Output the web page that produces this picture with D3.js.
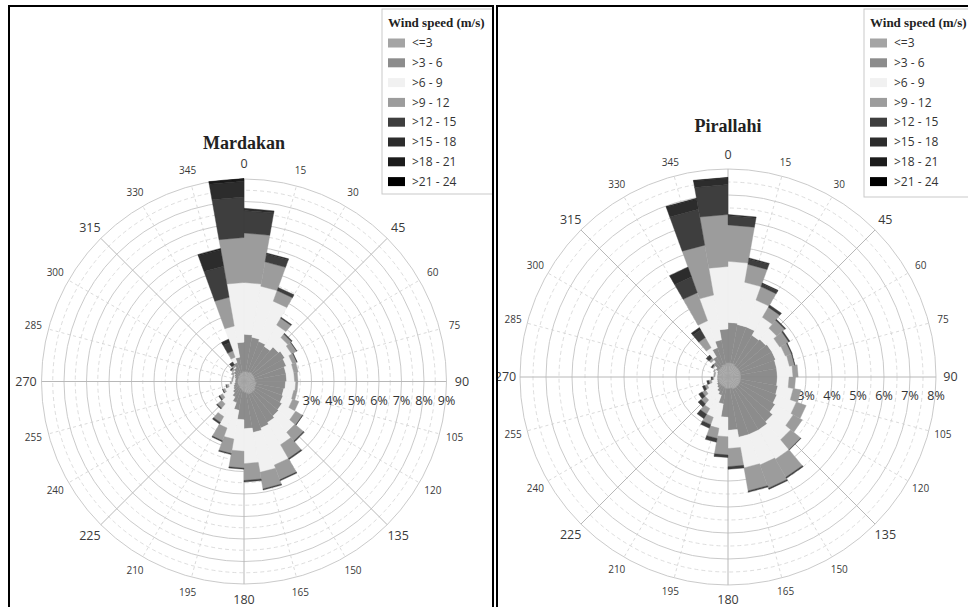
<!DOCTYPE html>
<html><head><meta charset="utf-8">
<script src="https://cdn.jsdelivr.net/npm/d3@7"></script>
<style>body{margin:0;background:#fff;}svg{display:block;}</style>
</head><body>
<svg id="c" width="968" height="607"></svg>
<script>
// ---------- DATA ----------
const directions = d3.range(0, 360, 10);          // bin start angle (deg), 10° sectors
const angleTicks = d3.range(0, 360, 15);          // compass labels
const speedClasses = ["<=3", ">3 - 6", ">6 - 9", ">9 - 12", ">12 - 15", ">15 - 18", ">18 - 21", ">21 - 24"];
const classColors = ["#a4a4a4", "#8c8c8c", "#f1f1f1", "#9c9c9c", "#3e3e3e", "#2c2c2c", "#1c1c1c", "#000000"];
const legendTitle = "Wind speed (m/s)";

// Mardakan frequencies (%) per direction bin, one array per speed class
const mardakanC1 = [0.45,0.45,0.45,0.5,0.5,0.5,0.5,0.5,0.5,0.55,0.55,0.55,0.6,0.6,0.6,0.6,0.55,0.5,0.45,0.4,0.35,0.35,0.3,0.3,0.3,0.3,0.3,0.3,0.3,0.3,0.3,0.35,0.35,0.4,0.4,0.45];
const mardakanC2 = [1.65,1.55,1.45,1.3,1.5,1.6,1.5,1.4,1.4,1.3,1.25,1.3,1.35,1.4,1.5,1.6,1.75,1.6,1.25,0.9,0.65,0.45,0.35,0.25,0.2,0.15,0.1,0.1,0.1,0.15,0.2,0.25,0.35,0.5,0.7,1.3];
const mardakanC3 = [2.3,2.3,1.9,1.1,0.55,0.35,0.3,0.35,0.35,0.45,0.45,0.45,0.7,0.95,1.15,1.75,1.8,1.55,1.4,1.3,1.2,1.0,0.65,0.55,0.4,0.25,0.15,0.1,0.1,0.05,0.05,0.05,0.05,0.25,1.4,2.65];
const mardakanC4 = [2.2,1.1,0.5,0.35,0.2,0.25,0.2,0.2,0.15,0.1,0.15,0.3,0.35,0.5,0.7,0.7,0.75,0.75,0.75,0.65,0.6,0.3,0.25,0.15,0.1,0.1,0.07,0.05,0.05,0.05,0.1,0.1,0.1,0.3,1.3,2.0];
const mardakanC5 = [1.0,0.35,0.15,0.05,0.05,0.02,0.02,0,0,0,0,0,0.02,0.05,0.05,0.05,0.05,0.07,0.05,0.05,0.05,0.08,0.05,0.05,0.02,0.02,0,0,0,0,0,0.05,0.15,0.4,1.4,1.8];
const mardakanC6 = [0.1,0.05,0,0,0,0,0,0,0,0,0,0,0,0,0,0,0,0,0,0,0,0,0,0,0,0,0,0,0,0,0,0,0,0.15,0.75,0.7];
const mardakanC7 = [0,0,0,0,0,0,0,0,0,0,0,0,0,0,0,0,0,0,0,0,0,0,0,0,0,0,0,0,0,0,0,0,0,0,0.05,0.1];
const mardakanC8 = [0,0,0,0,0,0,0,0,0,0,0,0,0,0,0,0,0,0,0,0,0,0,0,0,0,0,0,0,0,0,0,0,0,0,0,0.02];

// Pirallahi frequencies (%)
const pirallahiC1 = [0.55,0.55,0.55,0.5,0.5,0.5,0.5,0.5,0.5,0.5,0.5,0.5,0.5,0.5,0.5,0.5,0.45,0.45,0.45,0.45,0.4,0.4,0.4,0.4,0.4,0.4,0.4,0.4,0.4,0.4,0.45,0.45,0.45,0.5,0.5,0.55];
const pirallahiC2 = [1.55,1.5,1.5,1.35,1.4,1.45,1.45,1.4,1.4,1.4,1.45,1.5,1.6,1.75,1.85,1.85,1.9,1.6,1.1,0.6,0.35,0.25,0.15,0.1,0.05,0.03,0.02,0.02,0.02,0.05,0.1,0.3,0.45,0.7,0.95,1.3];
const pirallahiC3 = [2.35,1.65,1.1,0.8,0.55,0.35,0.4,0.5,0.6,0.45,0.6,0.8,0.8,0.9,1.3,1.25,1.2,0.7,0.75,0.95,0.9,0.75,0.6,0.5,0.4,0.22,0.13,0.08,0.08,0.1,0.1,0.1,0.4,1.1,1.75,2.4];
const pirallahiC4 = [1.4,0.7,0.55,0.45,0.4,0.4,0.25,0.2,0.2,0.25,0.3,0.4,0.4,0.5,0.8,0.95,0.9,0.7,0.7,0.4,0.3,0.25,0.2,0.15,0.1,0.1,0.05,0.05,0.05,0.05,0.05,0.1,0.45,1.15,1.95,2.0];
const pirallahiC5 = [0.35,0.2,0.12,0.1,0.05,0.05,0.03,0.02,0,0,0,0,0,0.02,0.05,0.05,0.05,0.1,0.1,0.15,0.15,0.2,0.15,0.15,0.1,0.08,0.05,0,0,0,0.05,0.15,0.35,0.65,1.4,1.15];
const pirallahiC6 = [0.05,0.05,0.03,0,0,0,0,0,0,0,0,0,0,0,0,0,0,0,0,0,0,0,0,0,0,0,0,0,0,0,0,0,0.1,0.4,0.4,0.25];
const pirallahiC7 = [0,0,0,0,0,0,0,0,0,0,0,0,0,0,0,0,0,0,0,0,0,0,0,0,0,0,0,0,0,0,0,0,0,0,0.03,0.03];
const pirallahiC8 = [0,0,0,0,0,0,0,0,0,0,0,0,0,0,0,0,0,0,0,0,0,0,0,0,0,0,0,0,0,0,0,0,0,0,0,0];

const mardakanPctLabels = [3,4,5,6,7,8,9];
const pirallahiPctLabels = [3,4,5,6,7,8];

// ---------- DRAW ----------
const svg = d3.select("#c");
const FONT = "'Open Sans', 'DejaVu Sans', sans-serif";
const SERIF = "'Liberation Serif', 'DejaVu Serif', serif";

const defs = svg.append("defs");
defs.append("clipPath").attr("id","clipL").append("rect").attr("x",10).attr("y",7).attr("width",482).attr("height",600);
defs.append("clipPath").attr("id","clipR").append("rect").attr("x",498).attr("y",7).attr("width",470).attr("height",600);

function drawRose(cfg){
  const g = svg.append("g").attr("clip-path", `url(#${cfg.clip})`);
  const r = d3.scaleLinear().domain([0, cfg.maxPct]).range([0, cfg.outerR]);
  const ang = d3.scaleLinear().domain([0, 360]).range([0, 2*Math.PI]);
  const c = g.append("g").attr("transform", `translate(${cfg.cx},${cfg.cy})`);

  // grid rings
  const rings = d3.range(0.5, cfg.maxPct + 0.001, 0.5);
  c.selectAll("circle.ring").data(rings).join("circle")
    .attr("r", d => r(d)).attr("fill","none")
    .attr("stroke", d => Number.isInteger(d) ? "#c4c4c4" : "#d4d4d4")
    .attr("stroke-width", d => Number.isInteger(d) ? 0.9 : 0.8)
    .attr("stroke-dasharray", d => Number.isInteger(d) ? null : "4,3");
  // radial lines
  c.selectAll("line.spoke").data(angleTicks).join("line")
    .attr("x1",0).attr("y1",0)
    .attr("x2", d => r(cfg.maxPct)*Math.sin(ang(d)))
    .attr("y2", d => -r(cfg.maxPct)*Math.cos(ang(d)))
    .attr("stroke", d => d % 45 === 0 ? "#b8b8b8" : "#d0d0d0")
    .attr("stroke-width", d => d % 45 === 0 ? 1 : 0.8)
    .attr("stroke-dasharray", d => d % 45 === 0 ? null : "3,3");

  // percent labels
  c.selectAll("text.pct").data(cfg.pctLabels).join("text")
    .attr("x", d => r(d)).attr("y", cfg.pctDy)
    .attr("text-anchor","middle").attr("font-family",FONT).attr("font-size",12.5)
    .attr("fill","#333").text(d => d + "%");

  // stacked bars
  const rows = directions.map((dir,i) => {
    const o = {dir};
    cfg.series.forEach((s,k) => o["c"+k] = s[i]);
    return o;
  });
  const keys = cfg.series.map((s,k) => "c"+k);
  const stacked = d3.stack().keys(keys)(rows);
  const poly = d3.lineRadial().angle(p => p[0]).radius(p => p[1]).curve(d3.curveLinearClosed);
  stacked.forEach((layer, k) => {
    c.append("g").selectAll("path").data(layer.filter(d => d[1] - d[0] > 0)).join("path")
      .attr("d", d => {
        const a0 = ang(d.data.dir), a1 = ang(d.data.dir + 10);
        const r0 = r(d[0]), r1 = r(d[1]);
        return poly([[a0,r0],[a0,r1],[a1,r1],[a1,r0]]);
      })
      .attr("fill", classColors[k]).attr("stroke", classColors[k]).attr("stroke-width",0.4);
  });

  // compass labels
  c.selectAll("text.ang").data(angleTicks).join("text")
    .attr("x", d => (cfg.outerR + cfg.labelOff)*Math.sin(ang(d)))
    .attr("y", d => -(cfg.outerR + cfg.labelOff)*Math.cos(ang(d)))
    .attr("dy","0.35em").attr("text-anchor","middle")
    .attr("font-family",FONT)
    .attr("font-size", d => d % 45 === 0 ? 12.5 : 10)
    .attr("fill","#3a3a3a").text(d => d);

  // title
  g.append("text").attr("x", cfg.cx).attr("y", cfg.titleY)
    .attr("text-anchor","middle").attr("font-family",SERIF).attr("font-weight","bold")
    .attr("font-size",18).attr("fill","#222").text(cfg.title);

  // legend
  const lg = g.append("g").attr("transform", `translate(${cfg.legendX},9)`);
  lg.append("rect").attr("x",0).attr("y",0).attr("width",130).attr("height",cfg.legendH)
    .attr("fill","#fff").attr("stroke","#c9c9c9").attr("stroke-width",1);
  lg.append("text").attr("x",6).attr("y",18).attr("font-family",SERIF).attr("font-weight","bold")
    .attr("font-size",13).attr("fill","#222").text(legendTitle);
  const items = lg.selectAll("g.item").data(speedClasses).join("g")
    .attr("transform", (d,i) => `translate(6,${34 + i*19.8})`);
  items.append("rect").attr("x",0).attr("y",-4.5).attr("width",17).attr("height",9)
    .attr("fill", (d,i) => classColors[i]);
  items.append("text").attr("x",24).attr("y",0).attr("dy","0.35em")
    .attr("font-family",FONT).attr("font-size",12).attr("fill","#333").text(d => d);
}

drawRose({clip:"clipL", cx:244, cy:381.5, maxPct:9, outerR:202.5, labelOff:15.5, pctDy:23,
  pctLabels:mardakanPctLabels, title:"Mardakan", titleY:149, legendX:382, legendH:185,
  series:[mardakanC1,mardakanC2,mardakanC3,mardakanC4,mardakanC5,mardakanC6,mardakanC7,mardakanC8]});
drawRose({clip:"clipR", cx:728, cy:377, maxPct:8, outerR:208, labelOff:14.5, pctDy:23,
  pctLabels:pirallahiPctLabels, title:"Pirallahi", titleY:132, legendX:864, legendH:188,
  series:[pirallahiC1,pirallahiC2,pirallahiC3,pirallahiC4,pirallahiC5,pirallahiC6,pirallahiC7,pirallahiC8]});

// panel frames
svg.append("rect").attr("x",9).attr("y",6).attr("width",484).attr("height",640)
  .attr("fill","none").attr("stroke","#000").attr("stroke-width",2);
svg.append("rect").attr("x",497).attr("y",6).attr("width",480).attr("height",640)
  .attr("fill","none").attr("stroke","#000").attr("stroke-width",2);
</script>
</body></html>
